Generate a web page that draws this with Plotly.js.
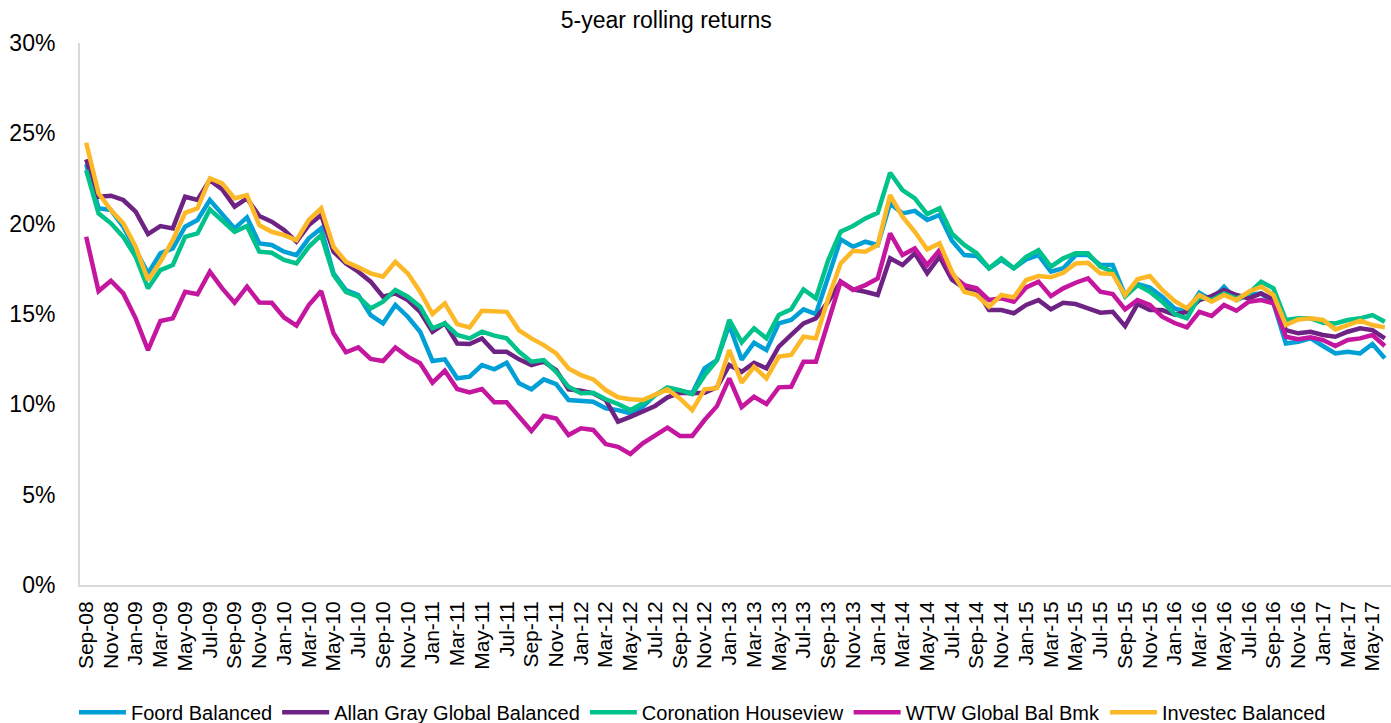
<!DOCTYPE html>
<html>
<head>
<meta charset="utf-8">
<script src="https://cdn.plot.ly/plotly-3.0.1.min.js"></script>
<style>html,body{margin:0;padding:0;background:#fff;}#chart{width:1391px;height:723px;}</style>
</head>
<body>
<div id="chart"></div>
<script>
const months = ["Sep-08","Oct-08","Nov-08","Dec-08",
"Jan-09","Feb-09","Mar-09","Apr-09","May-09","Jun-09","Jul-09","Aug-09","Sep-09","Oct-09","Nov-09","Dec-09",
"Jan-10","Feb-10","Mar-10","Apr-10","May-10","Jun-10","Jul-10","Aug-10","Sep-10","Oct-10","Nov-10","Dec-10",
"Jan-11","Feb-11","Mar-11","Apr-11","May-11","Jun-11","Jul-11","Aug-11","Sep-11","Oct-11","Nov-11","Dec-11",
"Jan-12","Feb-12","Mar-12","Apr-12","May-12","Jun-12","Jul-12","Aug-12","Sep-12","Oct-12","Nov-12","Dec-12",
"Jan-13","Feb-13","Mar-13","Apr-13","May-13","Jun-13","Jul-13","Aug-13","Sep-13","Oct-13","Nov-13","Dec-13",
"Jan-14","Feb-14","Mar-14","Apr-14","May-14","Jun-14","Jul-14","Aug-14","Sep-14","Oct-14","Nov-14","Dec-14",
"Jan-15","Feb-15","Mar-15","Apr-15","May-15","Jun-15","Jul-15","Aug-15","Sep-15","Oct-15","Nov-15","Dec-15",
"Jan-16","Feb-16","Mar-16","Apr-16","May-16","Jun-16","Jul-16","Aug-16","Sep-16","Oct-16","Nov-16","Dec-16",
"Jan-17","Feb-17","Mar-17","Apr-17","May-17","Jun-17"];

const tickLabels = ["Sep-08","Nov-08","Jan-09","Mar-09","May-09","Jul-09","Sep-09","Nov-09","Jan-10","Mar-10","May-10","Jul-10","Sep-10","Nov-10","Jan-11","Mar-11","May-11","Jul-11","Sep-11","Nov-11","Jan-12","Mar-12","May-12","Jul-12","Sep-12","Nov-12","Jan-13","Mar-13","May-13","Jul-13","Sep-13","Nov-13","Jan-14","Mar-14","May-14","Jul-14","Sep-14","Nov-14","Jan-15","Mar-15","May-15","Jul-15","Sep-15","Nov-15","Jan-16","Mar-16","May-16","Jul-16","Sep-16","Nov-16","Jan-17","Mar-17","May-17"];

const foord = [23.3,20.85,20.75,19.83,18.54,17.25,18.36,18.63,19.83,20.2,21.31,20.48,19.74,20.35,18.91,18.82,
18.45,18.26,19.19,19.74,17.25,16.33,16.05,14.94,14.48,15.5,14.85,14.02,
12.4,12.49,11.44,11.53,12.17,11.94,12.3,11.16,10.83,11.38,11.12,10.24,
10.2,10.14,9.78,9.68,9.5,9.87,10.51,10.89,10.75,10.61,11.99,12.45,
14.39,12.47,13.41,13.0,14.48,14.67,15.26,15.0,17.06,19.13,18.72,19.0,
18.82,21.12,20.57,20.71,20.2,20.48,19.05,18.26,18.21,17.53,17.99,17.53,
18.02,18.26,17.34,17.53,18.26,18.26,17.71,17.71,16.05,16.66,16.47,15.96,
15.31,15.12,16.18,15.77,16.51,15.77,16.05,16.14,15.59,13.37,13.46,13.65,
13.23,12.82,12.91,12.82,13.34,12.55];

const allanGray = [23.56,21.49,21.55,21.31,20.66,19.42,19.87,19.74,21.49,21.31,22.41,21.9,20.94,21.4,20.42,20.11,
19.65,19.0,19.92,20.48,18.45,17.8,17.34,16.79,15.96,16.14,15.77,15.12,
14.02,14.48,13.37,13.34,13.65,12.91,12.91,12.49,12.17,12.36,11.9,10.83,
10.75,10.61,10.24,9.04,9.31,9.59,9.91,10.39,10.64,10.61,10.64,10.94,
12.17,11.8,12.3,11.99,13.19,13.84,14.48,14.76,15.68,16.79,16.36,16.23,
16.05,18.08,17.71,18.36,17.25,18.17,16.9,16.42,16.33,15.22,15.22,15.04,
15.5,15.77,15.26,15.62,15.55,15.31,15.07,15.12,14.33,15.55,15.22,15.22,
14.97,15.12,15.77,15.99,16.33,16.05,15.87,16.14,15.81,14.11,13.93,14.02,
13.84,13.74,14.02,14.21,14.11,13.65];

const coronation = [22.97,20.57,20.02,19.27,18.17,16.42,17.43,17.71,19.27,19.46,20.79,20.2,19.55,19.87,18.45,18.39,
17.99,17.8,18.72,19.37,17.16,16.23,15.96,15.31,15.68,16.33,15.96,15.4,
14.21,14.48,13.84,13.65,14.02,13.8,13.65,12.91,12.36,12.45,11.8,10.97,
10.61,10.64,10.28,10.02,9.68,10.06,10.51,10.94,10.79,10.57,11.6,12.45,
14.67,13.43,14.21,13.65,14.94,15.26,16.36,15.87,17.99,19.55,19.87,20.29,
20.6,22.82,21.86,21.4,20.53,20.85,19.45,18.82,18.36,17.53,18.08,17.53,
18.17,18.54,17.62,18.08,18.36,18.36,17.62,17.34,15.96,16.6,16.23,15.68,
15.0,14.76,15.96,15.77,16.14,15.87,16.14,16.79,16.42,14.67,14.76,14.76,
14.52,14.48,14.67,14.76,14.94,14.57];

const wtw = [19.27,16.27,16.84,16.14,14.76,13.0,14.61,14.76,16.23,16.09,17.34,16.42,15.62,16.51,15.64,15.62,
14.81,14.36,15.5,16.27,13.93,12.88,13.15,12.51,12.4,13.15,12.64,12.27,
11.2,11.86,10.85,10.66,10.85,10.11,10.11,9.35,8.52,9.37,9.22,8.3,
8.67,8.58,7.8,7.65,7.25,7.84,8.3,8.71,8.25,8.25,9.13,9.9,
11.44,9.85,10.42,10.02,10.94,10.97,12.36,12.36,14.57,16.79,16.33,16.6,
16.97,19.46,18.26,18.63,17.71,18.54,17.16,16.6,16.42,15.77,15.87,15.68,
16.47,16.79,15.99,16.42,16.73,16.97,16.23,16.1,15.26,15.77,15.5,14.85,
14.5,14.26,15.12,14.89,15.5,15.18,15.68,15.77,15.59,13.74,13.6,13.71,
13.56,13.23,13.56,13.65,13.84,13.23];

const investec = [24.48,21.68,20.75,20.02,18.72,16.88,17.89,19.09,20.6,20.85,22.51,22.23,21.4,21.58,19.92,19.55,
19.37,19.09,20.2,20.85,18.72,17.89,17.58,17.25,17.06,17.89,17.25,16.23,
15.0,15.59,14.44,14.26,15.18,15.12,15.12,14.1,13.65,13.28,12.82,11.99,
11.62,11.38,10.79,10.39,10.28,10.24,10.51,10.83,10.33,9.68,10.83,10.89,
13.0,11.2,12.08,11.44,12.64,12.73,13.74,13.65,15.87,17.8,18.5,18.45,
18.82,21.58,20.38,19.55,18.58,18.91,17.34,16.23,16.05,15.4,16.05,15.92,
16.88,17.1,17.03,17.28,17.8,17.84,17.25,17.21,16.05,16.92,17.1,16.33,
15.72,15.31,16.05,15.68,16.05,15.77,16.23,16.51,16.05,14.39,14.7,14.76,
14.67,14.15,14.39,14.63,14.39,14.26];

const seriesNames = ["Foord Balanced","Allan Gray Global Balanced","Coronation Houseview","WTW Global Bal Bmk","Investec Balanced"];
const seriesColors = ["#00A0D6","#6E2384","#00C28A","#C4169E","#FDB827"];
const seriesData = [foord, allanGray, coronation, wtw, investec];

const traces = seriesData.map((vals, k) => ({
  type: "scatter",
  mode: "lines",
  x: months,
  y: vals,
  name: seriesNames[k],
  line: {color: seriesColors[k], width: 4.5},
  hoverinfo: "x+y+name"
}));

const layout = {
  width: 1391,
  height: 723,
  margin: {l: 80, r: 0, t: 43, b: 138, autoexpand: false},
  paper_bgcolor: "#ffffff",
  plot_bgcolor: "#ffffff",
  font: {family: "Liberation Sans, Arial, sans-serif", color: "#000000"},
  title: {
    text: "5-year rolling returns",
    font: {size: 23, color: "#000000"},
    x: 0.479, xref: "container", xanchor: "center",
    y: 0.973, yref: "container", yanchor: "middle"
  },
  xaxis: {
    type: "category",
    range: [-0.5, months.length - 0.5],
    tickmode: "array",
    tickvals: tickLabels,
    ticktext: tickLabels,
    tickangle: -90,
    tickfont: {size: 21, color: "#000000"},
    ticks: "",
    ticklabelstandoff: 6,
    showgrid: false,
    showline: true,
    linecolor: "#D9D9D9",
    linewidth: 2,
    zeroline: false,
    automargin: false,
    fixedrange: true
  },
  yaxis: {
    range: [0, 30],
    dtick: 5,
    tick0: 0,
    ticksuffix: "%",
    tickfont: {size: 23, color: "#000000"},
    ticks: "",
    ticklabelstandoff: 18,
    showgrid: false,
    showline: true,
    linecolor: "#D9D9D9",
    linewidth: 2,
    zeroline: false,
    automargin: false,
    fixedrange: true
  },
  showlegend: true,
  legend: {
    orientation: "h",
    xref: "container",
    x: 0.505, xanchor: "center",
    yref: "container",
    y: 0.015, yanchor: "middle",
    font: {size: 20, color: "#000000"},
    itemwidth: 47,
    bgcolor: "rgba(0,0,0,0)"
  }
};

Plotly.newPlot("chart", traces, layout, {displayModeBar: false, staticPlot: true});
</script>
</body>
</html>
